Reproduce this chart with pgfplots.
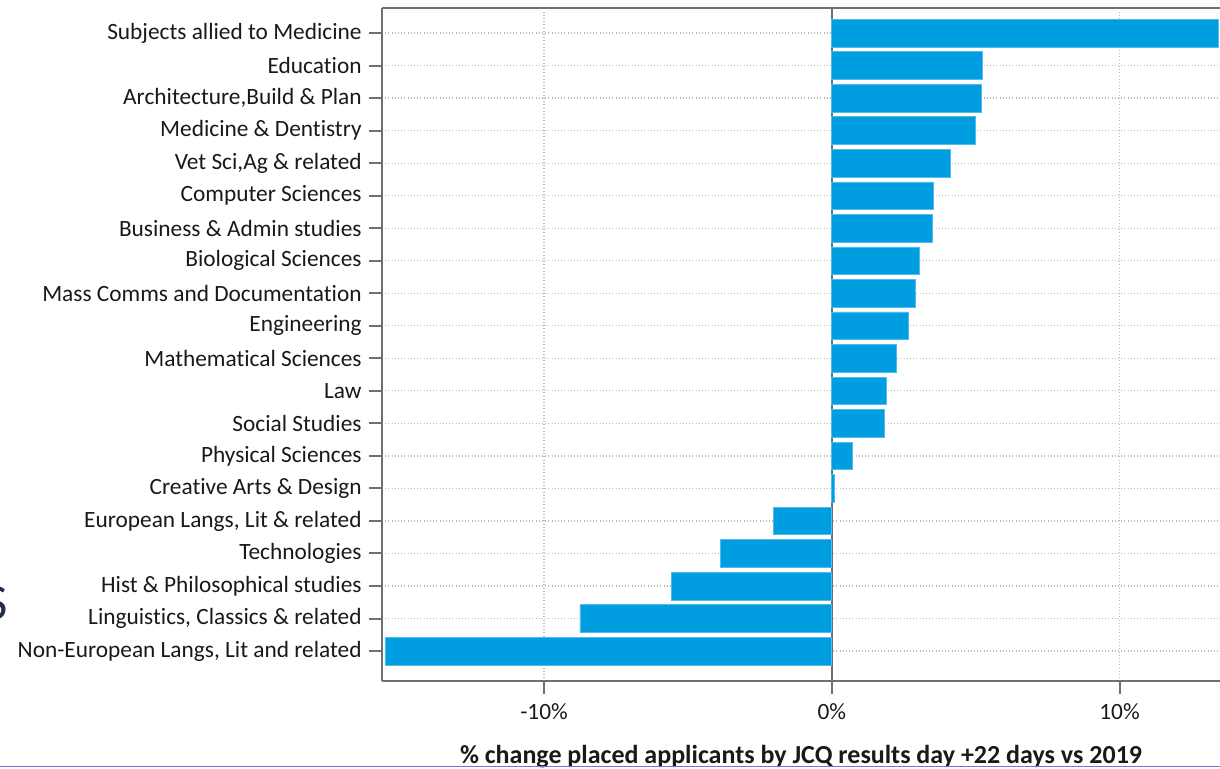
\documentclass[border=0pt]{standalone}
\usepackage{pgfplots}
\pgfplotsset{compat=1.18}
\usepackage{fontspec}
\setmainfont[Ligatures=NoCommon]{Carlito}
\definecolor{barblue}{RGB}{0,158,224}
\definecolor{baredge}{RGB}{80,188,236}
\definecolor{spine}{RGB}{112,112,112}
\definecolor{gridc}{RGB}{185,185,185}
\definecolor{txt}{RGB}{25,25,25}
\definecolor{navy}{RGB}{35,45,75}
\definecolor{purp}{RGB}{130,110,210}
\begin{document}
\begin{tikzpicture}
\useasboundingbox (0,0) rectangle (915pt,576pt);
\begin{axis}[
  at={(286.5pt,65.25pt)}, anchor=south west,
  scale only axis, width=628.5pt, height=504.75pt,
  xbar, bar width=0.85,
  xmin=-15.63, xmax=13.49, ymin=-0.92, ymax=19.77,
  separate axis lines,
  axis x line*=box, axis y line*=left,
  axis line style={spine, line width=1.5pt, -},
  tick align=outside, major tick length=9.75pt,
  tick style={spine, line width=1.5pt},
  xtick={-10,10}, xticklabels={-10\%,10\%},
  extra x ticks={0}, extra x tick labels={0\%},
  extra x tick style={grid style={solid, spine, line width=1.5pt}},
  xtick pos=left, ytick pos=left,
  ytick={0,...,19},
  yticklabels={Non-European Langs{,} Lit and related,
    Linguistics{,} Classics \& related,
    Hist \& Philosophical studies,
    Technologies,
    European Langs{,} Lit \& related,
    Creative Arts \& Design,
    Physical Sciences,
    Social Studies,
    Law,
    Mathematical Sciences,
    Engineering,
    Mass Comms and Documentation,
    Biological Sciences,
    Business \& Admin studies,
    Computer Sciences,
    Vet Sci{,}Ag \& related,
    Medicine \& Dentistry,
    Architecture{,}Build \& Plan,
    Education,
    Subjects allied to Medicine},
  xmajorgrids, ymajorgrids,
  grid style={dotted, gridc, line width=0.9pt},
  ticklabel style={font=\fontsize{17.5}{20}\selectfont, text=txt},
  yticklabel style={xshift=-2pt},
  xticklabel style={yshift=-4pt},
  /pgf/number format/assume math mode=true,
  xlabel={\% change placed applicants by JCQ results day +22 days vs 2019},
  xlabel style={font=\bfseries\fontsize{19.5}{22}\selectfont, text=txt,
    at={(axis description cs:0.5,0)}, anchor=base, yshift=-61.5pt},
  clip=false,
]
\addplot[fill=barblue, draw=baredge, line width=0.5pt] coordinates {
  (-15.53,0) (-8.75,1) (-5.57,2) (-3.86,3) (-2.02,4)
  (0.10,5) (0.71,6) (1.82,7) (1.89,8) (2.23,9)
  (2.67,10) (2.89,11) (3.05,12) (3.50,13) (3.54,14)
  (4.13,15) (4.98,16) (5.18,17) (5.22,18) (13.42,19)
};
\end{axis}
\node[anchor=east, inner sep=0pt, text=navy, font=\fontsize{38}{40}\selectfont] at (6pt,123.75pt) {S};
\draw[purp, line width=1.2pt] (0,1.2pt) -- (915pt,1.2pt);
\end{tikzpicture}
\end{document}
